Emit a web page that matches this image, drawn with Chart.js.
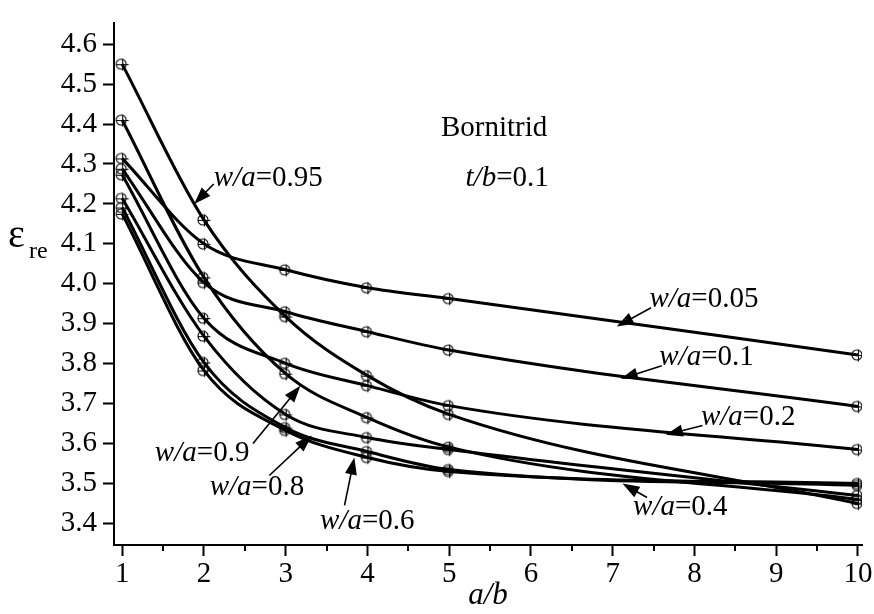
<!DOCTYPE html>
<html>
<head>
<meta charset="utf-8">
<script src="https://cdn.jsdelivr.net/npm/chart.js@4.4.1/dist/chart.umd.min.js"></script>
<style>
  html, body { margin: 0; padding: 0; background: #fff; }
  #wrap { width: 874px; height: 614px; position: relative; }
</style>
</head>
<body>
<div id="wrap"><canvas id="chart"></canvas></div>
<script>
// a/b values where the points were calculated
const aRatio = [1, 2, 3, 4, 5, 10];

// eps_re for each w/a curve
const wa005 = [4.314, 4.100, 4.035, 3.990, 3.963, 3.822];
const wa01  = [4.288, 4.003, 3.930, 3.880, 3.834, 3.693];
const wa02  = [4.273, 3.914, 3.801, 3.745, 3.695, 3.585];
const wa04  = [4.175, 3.783, 3.633, 3.565, 3.530, 3.500];
const wa06  = [4.191, 3.803, 3.640, 3.580, 3.535, 3.495];
const wa08  = [4.214, 3.869, 3.673, 3.615, 3.585, 3.470];
const wa09  = [4.410, 4.016, 3.775, 3.665, 3.591, 3.460];
const wa095 = [4.550, 4.160, 3.918, 3.770, 3.673, 3.450];

const seriesNames = ['w/a=0.05', 'w/a=0.1', 'w/a=0.2', 'w/a=0.4', 'w/a=0.6', 'w/a=0.8', 'w/a=0.9', 'w/a=0.95'];
const seriesValues = [wa005, wa01, wa02, wa04, wa06, wa08, wa09, wa095];

// axis ticks
const xTicks = [1, 2, 3, 4, 5, 6, 7, 8, 9, 10];
const xMinorTicks = [1.5, 2.5, 3.5, 4.5, 5.5, 6.5, 7.5, 8.5, 9.5];
const yTicks = [3.4, 3.5, 3.6, 3.7, 3.8, 3.9, 4.0, 4.1, 4.2, 4.3, 4.4, 4.5, 4.6];

// labels in the plot (text parts: [text, italic]); position in data units
const notes = [
    { parts: [['Bornitrid', false]], x: 4.9, y: 4.39 },
    { parts: [['t/b', true], ['=0.1', false]], x: 5.2, y: 4.265 },
    { parts: [['w/a', true], ['=0.95', false]], x: 2.12, y: 4.265, arrow: [2.12, 4.25, 1.88, 4.2] },
    { parts: [['w/a', true], ['=0.05', false]], x: 7.45, y: 3.96, arrow: [7.47, 3.94, 7.05, 3.893] },
    { parts: [['w/a', true], ['=0.1', false]], x: 7.57, y: 3.815, arrow: [7.6, 3.795, 7.1, 3.762] },
    { parts: [['w/a', true], ['=0.2', false]], x: 8.08, y: 3.665, arrow: [8.1, 3.645, 7.65, 3.622] },
    { parts: [['w/a', true], ['=0.4', false]], x: 7.25, y: 3.44, arrow: [7.42, 3.465, 7.12, 3.5] },
    { parts: [['w/a', true], ['=0.9', false]], x: 1.4, y: 3.575, arrow: [2.6, 3.6, 3.18, 3.745] },
    { parts: [['w/a', true], ['=0.8', false]], x: 2.07, y: 3.49, arrow: [2.8, 3.52, 3.32, 3.62] },
    { parts: [['w/a', true], ['=0.6', false]], x: 3.42, y: 3.405, arrow: [3.72, 3.445, 3.84, 3.565] }
];

const FONT = "'Liberation Serif', 'Times New Roman', serif";

// crossed-circle marker
function makeMarker() {
    const c = document.createElement('canvas');
    c.width = 20;
    c.height = 20;
    const g = c.getContext('2d');
    g.strokeStyle = '#000';
    g.lineWidth = 1.1;
    g.beginPath();
    g.arc(9, 10, 5, 0, Math.PI * 2);
    g.stroke();
    g.beginPath();
    g.moveTo(4, 10.5); g.lineTo(16.5, 10.5);
    g.moveTo(10.5, 4.5); g.lineTo(10.5, 16.5);
    g.stroke();
    return c;
}
const marker = makeMarker();

const datasets = seriesValues.map((vals, i) => ({
    label: seriesNames[i],
    data: aRatio.map((a, j) => ({ x: a, y: vals[j] })),
    borderColor: '#000',
    backgroundColor: '#000',
    borderWidth: 3,
    cubicInterpolationMode: 'monotone',
    pointStyle: marker,
    pointRadius: 5
}));

// minor ticks, y title and annotations
const extrasPlugin = {
    id: 'extras',
    afterDraw(chart) {
        const ctx = chart.ctx;
        const xs = chart.scales.x;
        const ys = chart.scales.y;
        const bottom = chart.chartArea.bottom;
        ctx.save();
        ctx.strokeStyle = '#000';
        ctx.lineWidth = 2;
        xMinorTicks.forEach(v => {
            const px = Math.round(xs.getPixelForValue(v));
            ctx.beginPath();
            ctx.moveTo(px, bottom);
            ctx.lineTo(px, bottom + 6);
            ctx.stroke();
        });

        // y axis title: eps with subscript re
        ctx.fillStyle = '#000';
        ctx.textBaseline = 'alphabetic';
        ctx.textAlign = 'left';
        ctx.font = '40px ' + FONT;
        ctx.fillText('\u03b5', 8, 247);
        ctx.font = '24px ' + FONT;
        ctx.fillText('re', 29, 258);

        // notes
        notes.forEach(n => {
            let px = xs.getPixelForValue(n.x);
            const py = ys.getPixelForValue(n.y);
            ctx.textBaseline = 'middle';
            n.parts.forEach(([t, it]) => {
                ctx.font = (it ? 'italic ' : '') + '29px ' + FONT;
                ctx.fillText(t, px, py);
                px += ctx.measureText(t).width;
            });
            if (n.arrow) {
                const x0 = xs.getPixelForValue(n.arrow[0]);
                const y0 = ys.getPixelForValue(n.arrow[1]);
                const x1 = xs.getPixelForValue(n.arrow[2]);
                const y1 = ys.getPixelForValue(n.arrow[3]);
                const ang = Math.atan2(y1 - y0, x1 - x0);
                const hl = 17, hw = 6;
                ctx.lineWidth = 1.6;
                ctx.beginPath();
                ctx.moveTo(x0, y0);
                ctx.lineTo(x1 - Math.cos(ang) * hl * 0.8, y1 - Math.sin(ang) * hl * 0.8);
                ctx.stroke();
                ctx.beginPath();
                ctx.moveTo(x1, y1);
                ctx.lineTo(x1 - Math.cos(ang) * hl - Math.sin(ang) * hw, y1 - Math.sin(ang) * hl + Math.cos(ang) * hw);
                ctx.lineTo(x1 - Math.cos(ang) * hl + Math.sin(ang) * hw, y1 - Math.sin(ang) * hl - Math.cos(ang) * hw);
                ctx.closePath();
                ctx.fill();
            }
        });
        ctx.restore();
    }
};

new Chart(document.getElementById('chart'), {
    type: 'line',
    data: { datasets: datasets },
    options: {
        responsive: true,
        maintainAspectRatio: false,
        devicePixelRatio: 1,
        animation: false,
        layout: { padding: { top: 12, right: 12, left: 0, bottom: 0 } },
        plugins: {
            legend: { display: false },
            tooltip: { enabled: false }
        },
        scales: {
            x: {
                type: 'linear',
                min: 0.9,
                max: 10.05,
                afterBuildTicks: s => { s.ticks = xTicks.map(v => ({ value: v })); },
                afterFit: s => { s.height = 69; },
                ticks: {
                    color: '#000',
                    font: { family: FONT, size: 29 },
                    autoSkip: false,
                    maxRotation: 0,
                    padding: 1
                },
                grid: { drawOnChartArea: false, drawTicks: true, tickLength: 11, color: '#000', tickWidth: 2 },
                border: { color: '#000', width: 2 },
                title: {
                    display: true,
                    text: 'a/b',
                    color: '#000',
                    font: { family: FONT, size: 31, style: 'italic' },
                    padding: { top: -10, bottom: 0 }
                }
            },
            y: {
                type: 'linear',
                min: 3.346,
                max: 4.652,
                afterBuildTicks: s => { s.ticks = yTicks.map(v => ({ value: v })); },
                afterFit: s => { s.width = 114; },
                ticks: {
                    color: '#000',
                    font: { family: FONT, size: 29 },
                    padding: 6,
                    callback: v => v.toFixed(1)
                },
                grid: { drawOnChartArea: false, drawTicks: true, tickLength: 11, color: '#000', tickWidth: 2 },
                border: { color: '#000', width: 2 }
            }
        }
    },
    plugins: [extrasPlugin]
});
</script>
</body>
</html>
